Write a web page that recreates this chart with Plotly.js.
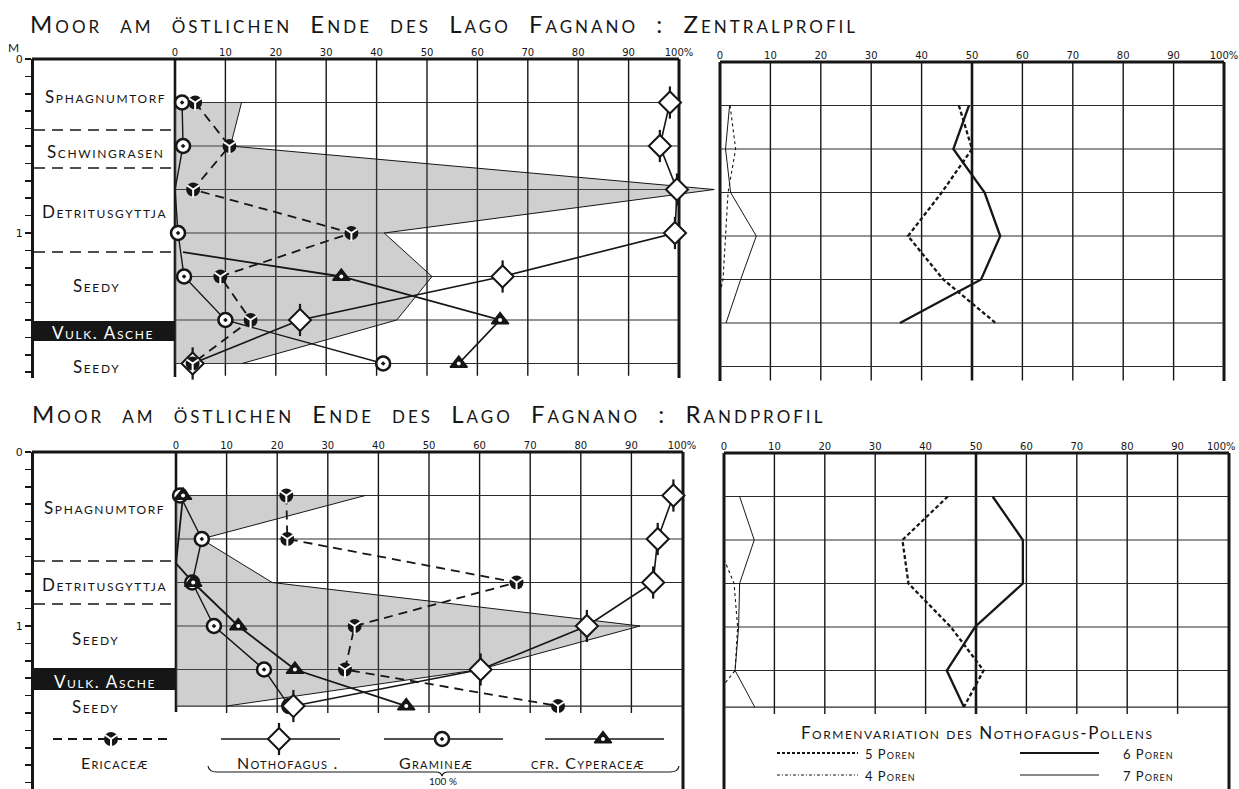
<!DOCTYPE html>
<html><head><meta charset="utf-8">
<script src="https://cdn.plot.ly/plotly-3.0.1.min.js"></script>
<style>html,body{margin:0;padding:0;background:#fff}#chart{width:1239px;height:789px}</style>
</head><body><div id="chart"></div>
<script>
// ================= DATA =================
const pctTicks = [0,10,20,30,40,50,60,70,80,90,100];
const pctTickText = ['0','10','20','30','40','50','60','70','80','90','100%'];
const depthTicksTop = [0,0.1,0.2,0.3,0.4,0.5,0.6,0.7,0.8,0.9,1.0,1.1,1.2,1.3,1.4,1.5,1.6,1.7,1.8];
const depthTicksBottom = [0,0.1,0.2,0.3,0.4,0.5,0.6,0.7,0.8,0.9,1.0,1.1,1.2,1.3,1.4,1.5,1.6,1.7,1.8,1.9];
const depthLabelled = {0:'0', 1:'1'};

// Zentralprofil (top)
const depthZ = [0.25,0.5,0.75,1.0,1.25,1.5,1.75];
const ericZ  = [4,10.8,3.6,35,9,15,3.5];
const nothZ  = [98.2,96.2,99.6,99.2,65,24.8,3.5];
const gramZ  = [1.4,1.6,0,0.6,1.8,10,41.3];
const cypDepthZ = [1.11,1.25,1.5,1.75];
const cypZ   = [1.6,33,64.5,56.3];
const shadeZ = [13.2,11,107,41.5,51,44,13.3];
const formDepthZ = [0.25,0.5,0.75,1.0,1.25,1.5];
const poren5Z = [47.4,50,44,37.3,44.3,54.7];
const poren6Z = [49.4,46.3,52.5,55.6,51.8,35.7];
const poren7Z = [1.9,1.1,2.1,7.2,4.1,1.2];
const poren4DepthZ = [0.25,0.5,0.75,1.0,1.25,1.33];
const poren4Z = [2,3.1,1.6,1.1,0.6,0];

// Randprofil (bottom)
const depthR = [0.25,0.5,0.75,1.0,1.25,1.46];
const ericR  = [21.8,22,67.3,35.3,33.4,75.5];
const nothR  = [98.3,95.2,94.3,81.2,60.2,23.2];
const gramR  = [0.8,5.1,3.2,7.5,17.4,22.4];
const cypDepthR = [0.25,0.64,0.75,1.0,1.25,1.46];
const cypR   = [1.4,0,3.4,12.3,23.5,45.5];
const shadeR = [37.4,5,19,91.7,60,10];
const poren5R = [44.4,35.4,36.6,45,51.5,47.6];
const poren6R = [53.3,59.3,59.3,49.8,44.2,47.6];
const poren7R = [3.1,6.0,3.1,2.9,2.2,6.1];
const poren4DepthR = [0.61,0.75,1.0,1.25,1.33];
const poren4R = [0,2,2.7,2.2,0];

// Text
const titleTop = 'Moor am östlichen Ende des Lago Fagnano : Zentralprofil';
const titleBottom = 'Moor am östlichen Ende des Lago Fagnano : Randprofil';
const lithoTop = ['Sphagnumtorf','Schwingrasen','Detritusgyttja','Seedy','Vulk. Asche','Seedy'];
const lithoBottom = ['Sphagnumtorf','Detritusgyttja','Seedy','Vulk. Asche','Seedy'];
const speciesNames = ['Ericaceæ','Nothofagus .','Gramineæ','cfr. Cyperaceæ'];
const formTitle = 'Formenvariation des Nothofagus-Pollens';
const formNames = ['5 Poren','4 Poren','6 Poren','7 Poren'];

// ================= LAYOUT HELPERS =================
const W = 1239, H = 789;
const PX = v => v / W, PY = v => 1 - v / H;
const INK = '#161616';
const SCALE_M = 174; // px per metre
const traces = [];
const shapes = [];
const annotations = [];

function pline(x0,y0,x1,y1,w,dash){
  shapes.push({type:'line', xref:'paper', yref:'paper', x0:PX(x0), y0:PY(y0), x1:PX(x1), y1:PY(y1),
    line:{color:INK, width:w, dash:dash||'solid'}, layer:'below'});
}
function prect(x0,y0,x1,y1){
  shapes.push({type:'rect', xref:'paper', yref:'paper', x0:PX(x0), y0:PY(y0), x1:PX(x1), y1:PY(y1),
    line:{width:0}, fillcolor:INK, layer:'below'});
}
function dline(xa,ya,x0,y0,x1,y1,w,col){
  shapes.push({type:'line', xref:xa, yref:ya, x0:x0, y0:y0, x1:x1, y1:y1,
    line:{color:col||INK, width:w}, layer:'below'});
}
function text(t, x, y, size, opts){
  opts = opts || {};
  annotations.push({xref:'paper', yref:'paper', x:PX(x), y:PY(y), xanchor:opts.xanchor||'center', yanchor:'middle',
    showarrow:false, text:'<span style="letter-spacing:'+(opts.ls||0)+'px;word-spacing:'+(opts.ws||0)+'px">'+t+'</span>',
    font:{family:opts.family||'Lato', size:size, color:opts.color||INK, variant:opts.variant||'small-caps'}});
}

// ---- marker styles ----
function markerTraces(xa, ya, xs, ys, kind){
  const base = {type:'scatter', mode:'markers', x:xs, y:ys, xaxis:xa, yaxis:ya, hoverinfo:'skip', cliponaxis:false};
  if(kind==='eric') return [
    Object.assign({}, base, {marker:{symbol:'circle', size:14, color:INK, line:{width:0}}}),
    Object.assign({}, base, {marker:{symbol:'y-down', size:10, color:'#fff', line:{color:'#fff', width:2}}})];
  if(kind==='noth') return [
    Object.assign({}, base, {marker:{symbol:'line-ns', size:23, color:INK, line:{color:INK, width:2.2}}}),
    Object.assign({}, base, {marker:{symbol:'diamond', size:17, color:'#fff', line:{color:INK, width:2}}})];
  if(kind==='gram') return [
    Object.assign({}, base, {marker:{symbol:'circle-dot', size:14, color:'#fff', line:{color:INK, width:2.6}}})];
  return [
    Object.assign({}, base, {marker:{symbol:'triangle-up', size:15, color:INK, line:{color:INK, width:1.5}}}),
    Object.assign({}, base, {marker:{symbol:'circle', size:4, color:'#fff', line:{width:0}}})];
}
const lineStyle = {
  eric:{color:INK, width:1.8, dash:'9px,6px'},
  noth:{color:INK, width:1.6},
  gram:{color:INK, width:1.4},
  cyp:{color:INK, width:1.8}
};

function speciesPanel(xa, ya, sampleDepths, series, shade){
  traces.push({type:'scatter', mode:'lines', x:shade, y:sampleDepths, xaxis:xa, yaxis:ya, fill:'tozerox',
    fillcolor:'rgba(105,105,105,0.32)', line:{color:INK, width:1}, hoverinfo:'skip'});
  series.forEach(s => traces.push({type:'scatter', mode:'lines', x:s.vals, y:s.depths, xaxis:xa, yaxis:ya,
    line:lineStyle[s.kind], hoverinfo:'skip'}));
  series.forEach(s => {
    const xs = [], ys = [];
    s.depths.forEach((d,i) => { if(sampleDepths.includes(d) && s.vals[i] > 0){ xs.push(s.vals[i]); ys.push(d); } });
    markerTraces(xa, ya, xs, ys, s.kind).forEach(t => traces.push(t));
  });
}
function formPanel(xa, ya, d, p5, p6, p7, d4, p4){
  traces.push({type:'scatter', mode:'lines', x:p7, y:d, xaxis:xa, yaxis:ya, line:{color:INK, width:1}, hoverinfo:'skip'});
  traces.push({type:'scatter', mode:'lines', x:p4, y:d4, xaxis:xa, yaxis:ya, line:{color:INK, width:1.1, dash:'dot'}, hoverinfo:'skip'});
  traces.push({type:'scatter', mode:'lines', x:p6, y:d, xaxis:xa, yaxis:ya, line:{color:INK, width:2.3}, hoverinfo:'skip'});
  traces.push({type:'scatter', mode:'lines', x:p5, y:d, xaxis:xa, yaxis:ya, line:{color:INK, width:2.3, dash:'4px,2.5px'}, hoverinfo:'skip'});
}
function grid(xa, ya, rows, bottom, thick50){
  pctTicks.forEach(v => { if(v>0 && v<100) dline(xa, ya, v, 0, v, bottom, (thick50 && v===50)?2.6:1.4); });
  rows.forEach(r => dline(xa, ya, 0, r, 100, r, 1.2, '#2a2a2a'));
}

// ---- panels ----
speciesPanel('x','y', depthZ, [
  {kind:'gram', depths:depthZ, vals:gramZ},
  {kind:'cyp', depths:cypDepthZ, vals:cypZ},
  {kind:'noth', depths:depthZ, vals:nothZ},
  {kind:'eric', depths:depthZ, vals:ericZ}], shadeZ);
grid('x','y', depthZ, 1.82, false);

formPanel('x2','y2', formDepthZ, poren5Z, poren6Z, poren7Z, poren4DepthZ, poren4Z);
grid('x2','y2', depthZ, 1.83, true);

speciesPanel('x3','y3', depthR, [
  {kind:'gram', depths:depthR, vals:gramR},
  {kind:'cyp', depths:cypDepthR, vals:cypR},
  {kind:'noth', depths:depthR, vals:nothR},
  {kind:'eric', depths:depthR, vals:ericR}], shadeR);
grid('x3','y3', depthR, 1.5, false);

formPanel('x4','y4', depthR, poren5R, poren6R, poren7R, poren4DepthR, poren4R);
grid('x4','y4', depthR, 1.5, true);

// ---- frames ----
pline(32,59,679,59,3); pline(679,59,679,378,3); pline(175,59,175,377,2.6);
pline(720,62,1224,62,3); pline(720,62,720,381,3); pline(1224,62,1224,381,3);
pline(32,452,683,452,3); pline(683,452,683,789,3); pline(176,452,176,712,2.6);
pline(724,453,1229,453,3); pline(724,453,724,789,3); pline(1229,453,1229,789,3);

// lithology boundaries
[130,168,252].forEach(y => pline(34,y,175,y,1.4,'11px,7px'));
[561,604].forEach(y => pline(34,y,176,y,1.4,'11px,7px'));
prect(33,321,175,341);
prect(33,668,176,690);

// lithology labels
const lithoPosTop = [[105,97],[106,152],[104,212],[96,285],[103,332],[96,366]];
lithoTop.forEach((t,i) => text(t, lithoPosTop[i][0], lithoPosTop[i][1], 17, {ls:1.6, color: t.startsWith('Vulk')?'#fff':INK}));
const lithoPosBot = [[104,507],[104,584],[95,638],[105,681],[95,706]];
lithoBottom.forEach((t,i) => text(t, lithoPosBot[i][0], lithoPosBot[i][1], 17, {ls:1.6, color: t.startsWith('Vulk')?'#fff':INK}));

// depth unit
text('M', 13, 47, 12, {});

// second title
text(titleBottom, 30, 413, 24, {xanchor:'left', ls:3, ws:9});

// last tick label of bottom-right panel (kept inside the page)
text('100%', 1238, 446, 10, {xanchor:'right', family:'DejaVu Sans', variant:'normal'});

// ---- species legend (pixel overlay axes x5/y5) ----
const legKeys = ['eric','noth','gram','cyp'];
const legCenters = [111, 279, 442, 603];
const legY = 739;
legKeys.forEach((k,i) => {
  const c = legCenters[i];
  shapes.push({type:'line', xref:'paper', yref:'paper', x0:PX(c-58), y0:PY(legY), x1:PX(c+61), y1:PY(legY),
    line:{color:INK, width:k==='eric'?1.8:1.6, dash:k==='eric'?'9px,6px':'solid'}, layer:'below'});
  markerTraces('x5','y5',[c],[legY],k).forEach(t => traces.push(t));
});
const legTextX = [114, 288, 436, 588];
speciesNames.forEach((t,i) => text(t, legTextX[i], 762, 16, {ls:1.2}));
shapes.push({type:'path', xref:'paper', yref:'paper', layer:'below', line:{color:INK, width:1.2},
  path:'M'+PX(208)+','+PY(766)+' Q'+PX(209)+','+PY(772)+' '+PX(217)+','+PY(772)+' L'+PX(436)+','+PY(772)+' Q'+PX(441)+','+PY(772)+' '+PX(442)+','+PY(776)+
       ' Q'+PX(443)+','+PY(772)+' '+PX(448)+','+PY(772)+' L'+PX(670)+','+PY(772)+' Q'+PX(678)+','+PY(772)+' '+PX(679)+','+PY(766)});
text('100 %', 443, 781, 10, {});

// ---- form legend ----
text(formTitle, 977, 732, 17, {ls:1.5});
pline(777,753,858,753,2.2,'3px,2px');
pline(777,775,858,775,1,'3px,2px,1px,2px');
pline(1020,753,1099,753,2.2);
pline(1020,775,1099,775,1.1);
text(formNames[0], 863, 754, 13, {xanchor:'left', ls:1});
text(formNames[1], 863, 776, 13, {xanchor:'left', ls:1});
text(formNames[2], 1121, 754, 13, {xanchor:'left', ls:1});
text(formNames[3], 1121, 776, 13, {xanchor:'left', ls:1});

// ---- axes ----
const tickfont = {family:'DejaVu Sans', size:10, color:INK};
function xAxis(domain, range, anchor, labels){
  return {domain:domain, range:range, anchor:anchor, side:'top', tickvals:pctTicks, ticktext:labels||pctTickText, ticks:'',
    showgrid:false, zeroline:false, showline:false, tickfont:tickfont, fixedrange:true, ticklabeloverflow:'allow'};
}
function depthAxis(domain, range, ticks){
  return {domain:domain, range:range, anchor:'free', position:PX(32), showline:true, linewidth:3, linecolor:INK,
    ticks:'outside', ticklen:6, tickwidth:1.5, tickcolor:INK, tickvals:ticks,
    ticktext:ticks.map(v => depthLabelled[v] || ''), showgrid:false, zeroline:false,
    tickfont:{family:'DejaVu Sans', size:11, color:INK}, fixedrange:true};
}
function hiddenY(domain, range, anchor){
  return {domain:domain, range:range, anchor:anchor, showline:false, ticks:'', showticklabels:false,
    showgrid:false, zeroline:false, fixedrange:true};
}

const layout = {
  width:W, height:H, margin:{l:0,r:0,t:0,b:0}, paper_bgcolor:'#fff', plot_bgcolor:'rgba(0,0,0,0)',
  showlegend:false, font:{family:'Lato', color:INK},
  title:{text:'<span style="letter-spacing:3px;word-spacing:9px">'+titleTop+'</span>', xref:'paper', yref:'paper',
    x:PX(30), xanchor:'left', y:PY(25), yanchor:'middle', font:{family:'Lato', size:24, color:INK, variant:'small-caps'}},
  xaxis: xAxis([PX(175), PX(175+5.04*108)], [0,108], 'y'),
  yaxis: depthAxis([PY(378), PY(59)], [(378-59)/SCALE_M, 0], depthTicksTop),
  xaxis2: xAxis([PX(720), PX(1224)], [0,100], 'y2'),
  yaxis2: hiddenY([PY(381), PY(62)], [(381-62)/SCALE_M, 0], 'x2'),
  xaxis3: xAxis([PX(176), PX(682)], [0,100], 'y3'),
  yaxis3: depthAxis([0, PY(452)], [(789-452)/SCALE_M, 0], depthTicksBottom),
  xaxis4: xAxis([PX(724), PX(1228)], [0,100], 'y4', pctTickText.slice(0,10).concat([''])),
  yaxis4: hiddenY([0, PY(453)], [(789-453)/SCALE_M, 0], 'x4'),
  xaxis5: {domain:[0,1], range:[0,W], anchor:'y5', visible:false, fixedrange:true},
  yaxis5: {domain:[0,1], range:[H,0], anchor:'x5', visible:false, fixedrange:true},
  shapes:shapes, annotations:annotations
};

Plotly.newPlot('chart', traces, layout, {staticPlot:true, displayModeBar:false});
</script></body></html>
